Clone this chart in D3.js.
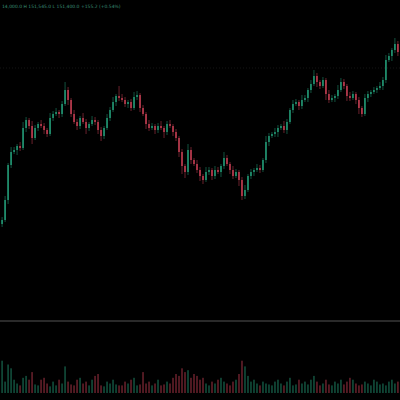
<!DOCTYPE html>
<html><head><meta charset="utf-8">
<script src="https://cdn.jsdelivr.net/npm/d3@7"></script>
<style>html,body{margin:0;background:#000;overflow:hidden}</style>
</head><body>
<svg id="chart" width="400" height="400"></svg>
<script>
const closes = [180,200,235,248,250,254,252,272,280,274,262,272,276,274,270,266,282,286,288,286,
  296,310,300,286,278,274,282,278,272,276,280,278,270,264,272,282,290,298,304,302,
  300,296,298,292,303,305,292,286,276,272,274,270,274,272,268,276,274,268,262,248,
  234,228,250,240,236,230,224,220,228,230,224,230,228,234,242,236,230,224,228,220,
  204,210,224,228,230,232,230,240,258,264,266,268,272,274,270,278,290,296,298,294,
  300,302,310,316,324,318,314,320,306,300,302,304,310,318,314,304,302,306,300,292,
  286,302,306,308,310,312,314,320,340,344,350,356,348]
const wickUp = [3,4,2,5,3,2,4,6,3,2,5,3,2,4,3,2,5,3,4,2,
  3,8,3,2,4,3,2,5,3,2,4,3,2,3,2,4,3,5,2,10,
  4,3,2,3,5,4,2,3,2,4,3,2,3,5,2,3,4,2,3,2,
  3,2,6,3,2,4,3,2,5,3,2,4,3,2,6,3,2,4,3,2,
  3,5,2,3,2,4,3,2,6,3,2,4,3,2,5,3,2,4,3,2,
  5,3,2,4,6,3,2,3,2,4,3,2,5,4,3,2,4,3,2,3,
  2,4,3,2,3,2,4,3,5,3,2,6,3]
const wickDn = [3,2,4,3,2,5,3,2,4,3,6,2,3,2,4,3,2,3,2,4,
  3,2,5,3,2,4,3,2,6,3,2,3,4,5,3,2,3,2,4,3,
  2,3,4,3,2,3,4,2,5,3,2,4,3,2,6,3,2,4,3,5,
  8,6,3,4,2,3,5,4,2,3,4,3,2,5,3,2,4,3,2,6,
  4,3,2,3,4,2,3,2,3,4,2,3,5,2,3,4,2,3,2,4,
  3,2,4,3,2,5,3,2,6,3,2,4,3,2,3,5,3,2,4,6,
  3,2,4,3,2,3,2,4,3,2,5,3,4]
const volumes = [34,12,30,26,14,10,8,16,18,14,22,9,8,14,16,10,7,12,8,14,
  10,28,12,9,8,14,16,10,12,8,14,18,20,8,7,12,10,14,9,8,
  8,12,10,14,16,8,9,22,10,12,8,10,14,8,9,12,10,16,20,18,
  26,22,24,16,20,18,14,16,10,8,12,10,14,16,12,10,8,12,14,20,
  34,28,18,12,14,10,8,12,10,9,8,12,14,10,8,12,16,8,9,14,
  10,12,9,14,18,12,8,10,14,9,8,12,10,14,9,12,16,14,10,8,
  9,12,10,8,14,12,9,10,8,12,14,10,12]
const headerText = "14,000.0  H 151,545.0  L 151,400.0  +155.2 (+0.54%)"

const svg = d3.select("#chart")
const n = closes.length
const x = d3.scaleBand().domain(d3.range(n)).range([0, 400]).padding(0.4)
const y = d3.scaleLinear().domain([0, 400]).range([400, 0])
const yVol = d3.scaleLinear().domain([0, 40]).range([393, 355])

const candles = closes.map((c, i) => {
  const o = i ? closes[i - 1] : c - 4
  return {i, o, c, h: Math.max(o, c) + wickUp[i], l: Math.min(o, c) - wickDn[i], v: volumes[i]}
})
const up = "#1f8a6a", down = "#b0384a"

svg.append("line").attr("x1", 0).attr("x2", 400).attr("y1", y(332)).attr("y2", y(332))
  .attr("stroke", "#222").attr("stroke-width", 0.6).attr("stroke-dasharray", "1,2")

svg.append("line").attr("x1", 0).attr("x2", 400).attr("y1", 321).attr("y2", 321)
  .attr("stroke", "#555").attr("stroke-width", 1)

const g = svg.append("g")
g.selectAll("line.wick").data(candles).join("line")
  .attr("x1", d => x(d.i) + x.bandwidth() / 2).attr("x2", d => x(d.i) + x.bandwidth() / 2)
  .attr("y1", d => y(d.h)).attr("y2", d => y(d.l))
  .attr("stroke", d => d.c >= d.o ? up : down).attr("stroke-width", 0.6)
g.selectAll("rect.body").data(candles).join("rect")
  .attr("x", d => x(d.i)).attr("width", x.bandwidth())
  .attr("y", d => y(Math.max(d.o, d.c)))
  .attr("height", d => Math.max(1, Math.abs(y(d.o) - y(d.c))))
  .attr("fill", d => d.c >= d.o ? up : down)

svg.append("g").selectAll("rect").data(candles).join("rect")
  .attr("x", d => x(d.i)).attr("width", x.bandwidth())
  .attr("y", d => yVol(d.v)).attr("height", d => yVol(0) - yVol(d.v))
  .attr("fill", d => d.c >= d.o ? up : down).attr("opacity", 0.5)

svg.append("text").attr("x", 2).attr("y", 8).text(headerText)
  .attr("font-family", "DejaVu Sans").attr("font-size", 4.5).attr("fill", "#3b8f77")
</script>
</body></html>
